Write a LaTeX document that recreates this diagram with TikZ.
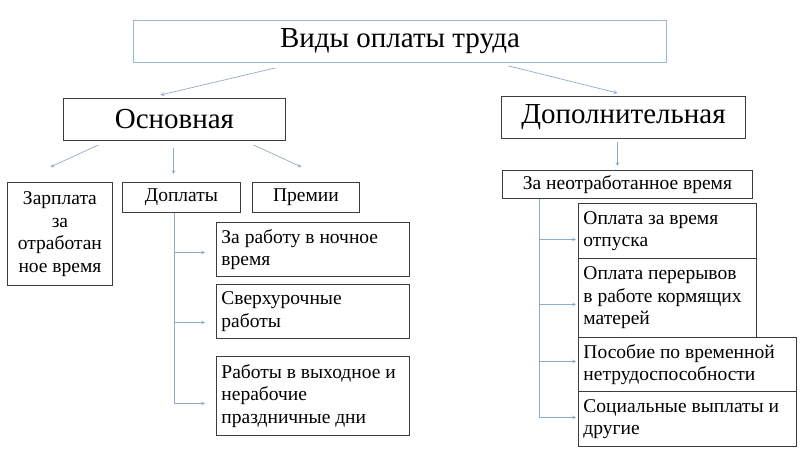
\documentclass[tikz,border=0pt]{standalone}
\usepackage{fontspec}
\setmainfont{Liberation Serif}
\usetikzlibrary{arrows, calc}
\definecolor{linkcolor}{RGB}{140, 172, 205}
\definecolor{topcolor}{RGB}{150, 185, 215}
\definecolor{boxcolor}{RGB}{60, 60, 60}

\tikzset{
  headbox/.style={draw=boxcolor, anchor=north west, inner sep=0pt, line width=0.9pt, font=\fontsize{29}{32}\selectfont},
  leafbox/.style={draw=boxcolor, anchor=north west, align=flush left, inner xsep=5pt, inner ysep=0pt, line width=0.9pt, font=\fontsize{19.5}{22.5}\selectfont},
  link/.style={draw=linkcolor, line width=0.7pt, ->, >=stealth}
}

\begin{document}
\begin{tikzpicture}[x=1pt, y=-1pt]
        \useasboundingbox (0,0) rectangle (800,450);

        % Top level
        \node[headbox, draw=topcolor, minimum width=533pt, minimum height=42pt] (kinds) at (133,20) {Виды оплаты труда};

        % Main and extra pay
        \node[headbox, minimum width=222pt, minimum height=42pt] (main) at (63,98) {Основная};
        \node[headbox, minimum width=244pt, minimum height=42pt] (extra) at (501,96) {Дополнительная};

        % Main pay parts
        \node[leafbox, align=flush center, text width=97pt, inner xsep=4pt, minimum width=105pt, minimum height=103pt] (wage) at (7,182) {Зарплата\\за\\отработан\\ное время};
        \node[leafbox, align=center, minimum width=118pt, minimum height=30pt] (addpay) at (122,182) {Доплаты};
        \node[leafbox, align=center, minimum width=107pt, minimum height=30pt] (bonus) at (252,182) {Премии};

        % Additional payments
        \node[leafbox, text width=183pt, minimum height=54pt] (night) at (216,222) {За работу в ночное\\время};
        \node[leafbox, text width=183pt, minimum height=54pt] (overtime) at (216,284) {Сверхурочные\\работы};
        \node[leafbox, text width=183pt, minimum height=79pt] (holiday) at (216,356) {Работы в выходное и\\нерабочие\\праздничные дни};

        % Extra pay parts
        \node[leafbox, align=center, minimum width=250pt, minimum height=28pt] (unworked) at (502,170) {За неотработанное время};
        \node[leafbox, text width=168pt, minimum height=55pt] (vacation) at (578,203) {Оплата за время\\отпуска};
        \node[leafbox, text width=168pt, minimum height=79pt] (nursing) at (578,258) {Оплата перерывов\\в работе кормящих\\матерей};
        \node[leafbox, text width=208pt, minimum height=54pt] (sick) at (578,337) {Пособие по временной\\нетрудоспособности};
        \node[leafbox, text width=208pt, minimum height=55pt] (social) at (578,391) {Социальные выплаты и\\другие};

        % Connecting arrows
        \draw[link] ([xshift=-124.5pt, yshift=-5pt]kinds.south) -- ([xshift=-14pt, yshift=3pt]main.north);
        \draw[link] ([xshift=108.5pt, yshift=-3pt]kinds.south) -- ([xshift=-6pt, yshift=3pt]extra.north);
        \draw[link] ([xshift=-76pt, yshift=-4pt]main.south) -- ([xshift=-9.5pt, yshift=15pt]wage.north);
        \draw[link] ([xshift=-1pt, yshift=-7pt]main.south) -- ([xshift=-8pt, yshift=8pt]addpay.north);
        \draw[link] ([xshift=79pt, yshift=-4pt]main.south) -- ([xshift=-4.5pt, yshift=15pt]bonus.north);
        \draw[link] ([xshift=-6pt, yshift=-3pt]extra.south) -- ([xshift=-10pt, yshift=4pt]unworked.north);

        % Branches
        \draw[link] ([xshift=-7pt]addpay.south) |- ([xshift=-11pt, yshift=-3pt]night.west);
        \draw[link] ([xshift=-7pt]addpay.south) |- ([xshift=-11pt, yshift=-11pt]overtime.west);
        \draw[link] ([xshift=-7pt]addpay.south) |- ([xshift=-11pt, yshift=-7.5pt]holiday.west);
        \draw[link] ([xshift=37pt]unworked.south west) |- ([xshift=-2pt, yshift=-8.5pt]vacation.west);
        \draw[link] ([xshift=37pt]unworked.south west) |- ([xshift=-2pt, yshift=-6.5pt]nursing.west);
        \draw[link] ([xshift=37pt]unworked.south west) |- ([xshift=-2pt, yshift=3pt]sick.west);
        \draw[link] ([xshift=37pt]unworked.south west) |- ([xshift=-2pt, yshift=1.5pt]social.west);
    \end{tikzpicture}
\end{document}
